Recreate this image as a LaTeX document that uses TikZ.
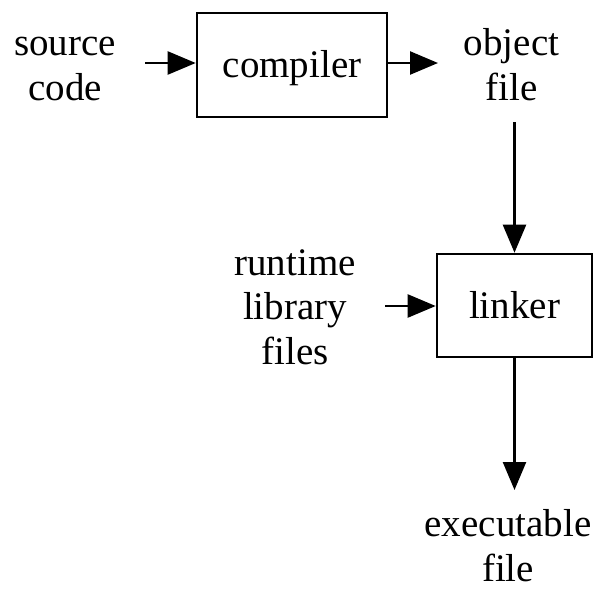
\documentclass[tikz,border=0pt]{standalone}
\usepackage{fontspec}
\setmainfont{Liberation Serif}
\usetikzlibrary{arrows.meta}
\begin{document}
\begin{tikzpicture}[x=1pt,y=-1pt,
  lbl/.style={inner sep=0pt, anchor=base, font=\fontsize{39}{45}\selectfont},
  procbox/.style={draw, line width=2.6pt, inner sep=0pt, font=\fontsize{39}{45}\selectfont},
  flow/.style={line width=2.4pt, -{Triangle[length=28pt,width=23pt]}}]
\useasboundingbox (0,0) rectangle (598,590);
% boxes
\node[procbox, minimum width=190pt, minimum height=104pt] (comp) at (292,65) {};
\node[lbl] (comptxt) at (292,77) {compiler};
\node[procbox, minimum width=155pt, minimum height=103pt] (link) at (514.5,305.5) {};
\node[lbl] (linktxt) at (514.5,318) {linker};
% labels
\node[lbl] (src1) at (65,55) {source};
\node[lbl] (src2) at (65,100) {code};
\node[lbl] (obj1) at (511.5,55) {object};
\node[lbl] (obj2) at (511.5,100) {file};
\node[lbl] (rt1) at (295,275) {runtime};
\node[lbl] (rt2) at (295,319) {library};
\node[lbl] (rt3) at (295,364) {files};
\node[lbl] (ex1) at (508,536) {executable};
\node[lbl] (ex2) at (508,581) {file};
% connector ends
\coordinate (srcend) at (145,63);
\coordinate (objin) at (438,63);
\coordinate (objout) at (514.5,122);
\coordinate (rtend) at (385,306);
\coordinate (exin) at (514.5,490);
% arrows
\draw[flow] (srcend) -- (comp.west |- srcend);
\draw[flow] (comp.east |- objin) -- (objin);
\draw[flow] (objout) -- (link.north);
\draw[flow] (rtend) -- (link.west |- rtend);
\draw[flow] (link.south) -- (exin);
\end{tikzpicture}
\end{document}
